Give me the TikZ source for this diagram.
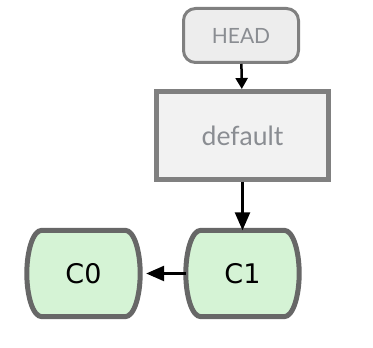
\documentclass[tikz,border=0pt]{standalone}
\usepackage{fontspec}
\setmainfont{DejaVu Sans}
\newfontfamily\reffont{Lato}
\usetikzlibrary{arrows.meta,backgrounds}

\definecolor{refline}{HTML}{808080}
\definecolor{reffill}{HTML}{EDEDED}
\definecolor{reftext}{HTML}{8A8D92}
\definecolor{commitline}{HTML}{676767}
\definecolor{commitfill}{HTML}{D5F3D5}

\tikzset{
  ref/.style={draw=refline, fill=reffill, text=reftext, font=\reffont},
  commit/.style={minimum width=113pt, minimum height=86pt,
    font=\fontsize{27}{30}\selectfont},
  barrel/.style={draw=commitline, fill=commitfill, line width=5pt},
  link/.style={line width=2.5pt, -{Triangle[length=18pt,width=15pt]}}
}

\begin{document}
\begin{tikzpicture}[x=1pt, y=1pt]
  \useasboundingbox (0,0) rectangle (373,348);

  % Draw branch pointers
  \node[ref, line width=3pt, rounded corners=12pt, minimum width=115pt,
    minimum height=54pt, font=\reffont\fontsize{21}{23}\selectfont]
    (head) at (241,312.5) {HEAD};
  \node[ref, line width=5pt, minimum width=172pt, minimum height=88pt,
    fill=reffill!70!white, font=\reffont\fontsize{26.5}{29}\selectfont]
    (default) at (242.5,212.5) {default};

  % Draw commits
  \node[commit] (c1) at (242.5,74.5) {C1};
  \node[commit] (c0) at (83.5,74.5) {C0};

  % Barrel outlines behind the commit labels
  \begin{scope}[on background layer]
    \foreach \c in {c0,c1}
      \draw[barrel] ([xshift=15pt]\c.north west) -- ([xshift=-15pt]\c.north east)
        .. controls ([xshift=-6pt]\c.north east) and ([yshift=22pt]\c.east) .. (\c.east)
        .. controls ([yshift=-22pt]\c.east) and ([xshift=-6pt]\c.south east) .. ([xshift=-15pt]\c.south east)
        -- ([xshift=15pt]\c.south west)
        .. controls ([xshift=6pt]\c.south west) and ([yshift=-22pt]\c.west) .. (\c.west)
        .. controls ([yshift=22pt]\c.west) and ([xshift=6pt]\c.north west) .. cycle;
  \end{scope}

  % Draw pointers and parent link
  \draw[line width=2.5pt, -{Triangle[length=11pt,width=12pt]}] (head) -- (default);
  \draw[link] (default) -- (c1);
  \draw[link] (c1) -- ([xshift=6pt]c0.east);
\end{tikzpicture}
\end{document}
